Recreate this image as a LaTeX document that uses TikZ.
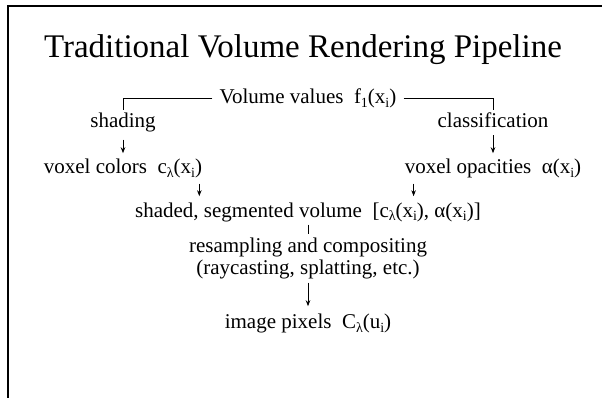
\documentclass[tikz,border=0pt]{standalone}
\usepackage{fontspec}
\setmainfont{Liberation Serif}
\usetikzlibrary{arrows.meta}
\newcommand{\lowsub}[1]{\raisebox{-4pt}{\fontsize{14}{14}\selectfont #1}}

\begin{document}
\begin{tikzpicture}[
  x=1pt,
  y=-1pt,
  wire/.style={
    draw=black,
    line width=0.8pt
  },
  wire arrow/.style={
    wire,
    -{Stealth[length=6pt,width=4.5pt]}
  },
  frame line/.style={
    draw=black,
    line width=2pt
  },
  title text/.style={
    font=\fontsize{33}{38}\selectfont,
    anchor=base,
    inner sep=0pt
  },
  stage text/.style={
    font=\fontsize{21}{24}\selectfont,
    anchor=base,
    inner sep=3pt
  }
]

\useasboundingbox (0,0) rectangle (602,398);

% slide frame: only the left and top edges show
\draw[frame line] (7.5,398) -- (7.5,6.5) -- (602,6.5);

\node[title text] (title) at (303,58) {Traditional Volume Rendering Pipeline};

% data stages
\node[stage text] (volume) at (308,104) {Volume values\ \ f\lowsub{1}(x\lowsub{i})};
\node[stage text] (shading) at (123,128) {shading};
\node[stage text] (classif) at (493,128) {classification};
\node[stage text] (colors) at (123,174) {voxel colors\ \ c\lowsub{λ}(x\lowsub{i})};
\node[stage text] (opacities) at (493,174) {voxel opacities\ \ α(x\lowsub{i})};
\node[stage text] (shaded) at (308,217) {shaded, segmented volume\ \ [c\lowsub{λ}(x\lowsub{i}), α(x\lowsub{i})]};
\node[stage text] (resample) at (308,252) {resampling and compositing};
\node[stage text] (raycast) at (308,274) {(raycasting, splatting, etc.)};
\node[stage text] (pixels) at (308,328) {image pixels\ \ C\lowsub{λ}(u\lowsub{i})};

% the volume splits into the two branches
\draw[wire] ([xshift=-4pt]volume.west) -| (shading.north);
\draw[wire] ([xshift=4pt]volume.east) -| (classif.north);

% branch arrows
\draw[wire arrow, shorten <=4pt, shorten >=3pt] (shading.south) -- (shading.south |- colors.north);
\draw[wire arrow, shorten <=4pt, shorten >=3pt] (classif.south) -- (classif.south |- opacities.north);

% both branches join the segmented volume
\draw[wire arrow, shorten <=2pt, shorten >=3pt] ([xshift=-6pt]colors.south east) -- ([xshift=-6pt]colors.south east |- shaded.north);
\draw[wire arrow, shorten <=2pt, shorten >=3pt] ([xshift=12pt]opacities.south west) -- ([xshift=12pt]opacities.south west |- shaded.north);

% resampling and compositing
\draw[wire] (shaded.south) -- (shaded.south |- resample.north);
\draw[wire arrow, shorten <=1pt, shorten >=4pt] (raycast.south) -- (raycast.south |- pixels.north);

\end{tikzpicture}
\end{document}
